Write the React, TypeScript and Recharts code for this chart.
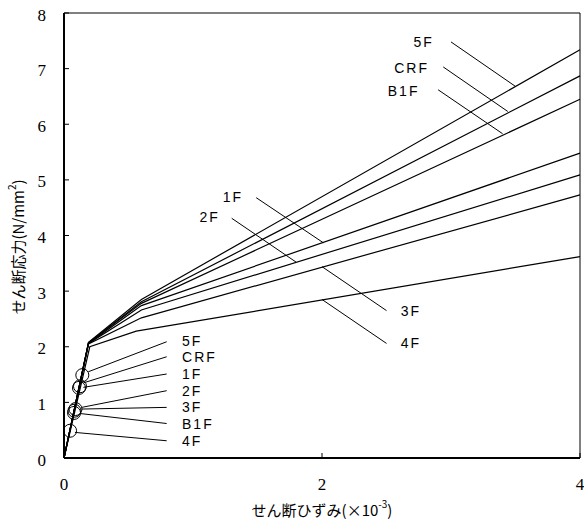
import { ComposedChart, Line, Scatter, XAxis, YAxis, ReferenceLine, ReferenceDot, ReferenceArea, Label } from 'recharts';

// floors, in the order of the end values (top line first)
const floors = ['5F', 'CRF', 'B1F', '1F', '2F', '3F', '4F'];

// skeleton curves: origin -> 1st knee -> 2nd knee -> end (strain x10^-3, stress N/mm2)
const knee1Strain = [0.19, 0.19, 0.19, 0.19, 0.19, 0.19, 0.2];
const knee1Stress = [2.08, 2.07, 2.07, 2.06, 2.06, 2.05, 2.0];
const knee2Strain = [0.6, 0.6, 0.6, 0.6, 0.6, 0.6, 0.56];
const knee2Stress = [2.85, 2.81, 2.78, 2.74, 2.66, 2.52, 2.28];
const endStrain = [4, 4, 4, 4, 4, 4, 4];
const endStress = [7.34, 6.87, 6.45, 5.48, 5.09, 4.73, 3.62];

// observed points (circles)
const markStrain = [0.142, 0.124, 0.078, 0.116, 0.089, 0.081, 0.047];
const markStress = [1.49, 1.29, 0.81, 1.26, 0.88, 0.85, 0.49];

const xTicks = [0, 2, 4];
const yTicks = [0, 1, 2, 3, 4, 5, 6, 7, 8];

// annotation placement (data coords): leader start, leader end, text start
const curveNotes = [
  { text: '5F', from: [3.0, 7.48], to: [3.5, 6.68], at: [2.71, 7.47] },
  { text: 'CRF', from: [2.94, 7.03], to: [3.44, 6.23], at: [2.56, 7.01] },
  { text: 'B1F', from: [2.9, 6.62], to: [3.4, 5.83], at: [2.51, 6.6] },
  { text: '1F', from: [1.49, 4.68], to: [2.01, 3.87], at: [1.23, 4.7] },
  { text: '2F', from: [1.3, 4.31], to: [1.8, 3.52], at: [1.05, 4.33] },
  { text: '3F', from: [2.5, 2.65], to: [2.0, 3.44], at: [2.61, 2.64] },
  { text: '4F', from: [2.5, 2.06], to: [2.0, 2.85], at: [2.61, 2.07] },
];
const markNotes = [
  { text: '5F', from: [0.188, 1.55], to: [0.796, 2.09], at: [0.915, 2.1] },
  { text: 'CRF', from: [0.15, 1.35], to: [0.796, 1.82], at: [0.915, 1.82] },
  { text: '1F', from: [0.15, 1.27], to: [0.796, 1.51], at: [0.915, 1.51] },
  { text: '2F', from: [0.137, 0.91], to: [0.796, 1.21], at: [0.915, 1.2] },
  { text: '3F', from: [0.137, 0.88], to: [0.796, 0.91], at: [0.915, 0.92] },
  { text: 'B1F', from: [0.124, 0.8], to: [0.796, 0.62], at: [0.915, 0.61] },
  { text: '4F', from: [0.085, 0.46], to: [0.796, 0.31], at: [0.915, 0.31] },
];

const curves = floors.map((f, i) => ({
  name: f,
  points: [
    { x: 0, y: 0 },
    { x: knee1Strain[i], y: knee1Stress[i] },
    { x: knee2Strain[i], y: knee2Stress[i] },
    { x: endStrain[i], y: endStress[i] },
  ],
}));

const marks = floors.map((f, i) => ({ name: f, x: markStrain[i], y: markStress[i] }));

const serif = "'Liberation Serif', 'DejaVu Serif', serif";
const noteFont = "'Liberation Sans', Arial, sans-serif";
const jpFont = "'Noto Sans CJK JP', sans-serif";

const XTick = ({ x, y, payload }: any) => (
  <g>
    <line x1={x} y1={y - 20} x2={x} y2={y - 25} stroke="#000" />
    <text x={x} y={y + 6} textAnchor="middle" dominantBaseline="central" fontFamily={serif} fontSize={17} fill="#000">
      {payload.value}
    </text>
  </g>
);

const YTick = ({ x, y, payload }: any) => (
  <g>
    <line x1={x + 18} y1={y} x2={x + 23} y2={y} stroke="#000" />
    <text x={x} y={y + 2} textAnchor="end" dominantBaseline="central" fontFamily={serif} fontSize={17} fill="#000">
      {payload.value}
    </text>
  </g>
);

const noteShape = (text: string) => (p: any) => (
  <text x={p.cx} y={p.cy} dominantBaseline="central" fontFamily={noteFont} fontSize={14} letterSpacing={2} fill="#000">
    {text}
  </text>
);

const CircleMark = (p: any) => <circle cx={p.cx} cy={p.cy} r={6.5} fill="none" stroke="#000" strokeWidth={1} />;

export default function App() {
  const notes = [...curveNotes, ...markNotes];
  return (
    <div style={{ position: 'absolute', left: 0, top: 0, background: '#fff' }}>
      <ComposedChart width={584} height={523} margin={{ top: 13, right: 4, bottom: 0, left: 0 }}>
        <XAxis
          type="number"
          dataKey="x"
          domain={[0, 4]}
          ticks={xTicks}
          height={65}
          tickSize={0}
          tickMargin={20}
          tick={<XTick />}
          axisLine={{ stroke: '#000', strokeWidth: 2 }}
        >
          <Label
            content={() => (
              <text x={322} y={509} textAnchor="middle" dominantBaseline="central" fontFamily={jpFont} fontSize={15} fill="#000">
                せん断ひずみ(×10<tspan dy={-6} fontSize={10}>-3</tspan><tspan dy={6}>)</tspan>
              </text>
            )}
          />
        </XAxis>
        <YAxis
          type="number"
          dataKey="y"
          domain={[0, 8]}
          ticks={yTicks}
          width={64}
          tickSize={0}
          tickMargin={18}
          tick={<YTick />}
          axisLine={{ stroke: '#000', strokeWidth: 2 }}
        >
          <Label
            content={() => (
              <text x={17} y={247} transform="rotate(-90 17 247)" textAnchor="middle" dominantBaseline="central" fontFamily={jpFont} fontSize={15} fill="#000">
                せん断応力(N/mm<tspan dy={-6} fontSize={10}>2</tspan><tspan dy={6}>)</tspan>
              </text>
            )}
          />
        </YAxis>
        <ReferenceArea x1={0} x2={4} y1={0} y2={8} fill="none" stroke="#000" strokeWidth={1} ifOverflow="visible" />
        {curves.map((c) => (
          <Line
            key={c.name}
            data={c.points}
            dataKey="y"
            type="linear"
            stroke="#000"
            strokeWidth={1.2}
            dot={false}
            isAnimationActive={false}
          />
        ))}
        <Scatter data={marks} dataKey="y" shape={CircleMark} isAnimationActive={false} />
        {notes.map((n, i) => (
          <ReferenceLine
            key={'l' + i}
            segment={[{ x: n.from[0], y: n.from[1] }, { x: n.to[0], y: n.to[1] }]}
            stroke="#000"
            strokeWidth={1}
            ifOverflow="visible"
          />
        ))}
        {notes.map((n, i) => (
          <ReferenceDot key={'t' + i} x={n.at[0]} y={n.at[1]} r={0} shape={noteShape(n.text)} ifOverflow="visible" />
        ))}
      </ComposedChart>
    </div>
  );
}
